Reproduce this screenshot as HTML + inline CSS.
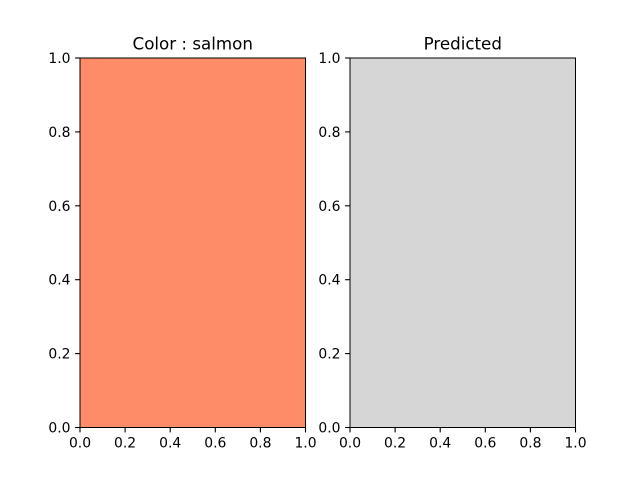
<!DOCTYPE html>
<html><head><meta charset="utf-8"><style>body{margin:0;background:#fff}svg{display:block}text{font-family:"DejaVu Sans","Liberation Sans",sans-serif;font-size:13.9px;fill:#000}</style></head>
<body>
<svg id="fig" width="640" height="480"></svg>
<script>
const ticks = [0, 0.2, 0.4, 0.6, 0.8, 1.0];
const tickLabels = ["0.0","0.2","0.4","0.6","0.8","1.0"];
const panelTitles = ["Color : salmon", "Predicted"];
const panelColors = ["#FF8C69", "#D6D6D6"];
const panelNames = ["actual-color-panel", "predicted-color-panel"];
const svgEl = document.getElementById('fig');
const NS = 'http://www.w3.org/2000/svg';
const lefts = [80, 350], axW = 225.5, axTop = 58, axBottom = 427.5;
function mk(t, a, p) { const e = document.createElementNS(NS, t); for (const k in a) e.setAttribute(k, a[k]); (p || svgEl).appendChild(e); return e; }
panelTitles.forEach((title, i) => {
  const L = lefts[i];
  const sx = v => L + v * axW, sy = v => axBottom - v * (axBottom - axTop);
  const g = mk('g', {});
  
  
  const r = mk('rect', {x: L, y: axTop, width: axW, height: axBottom - axTop, fill: panelColors[i], stroke: '#000', 'stroke-width': 1}, g);
  
  
  const t = mk('text', {x: L + axW / 2, y: axTop - 8.5, 'text-anchor': 'middle', style: 'font-size:16.7px'}, g);
  t.textContent = title;
  
  
  ticks.forEach((v, j) => {
    mk('line', {x1: sx(v), x2: sx(v), y1: axBottom, y2: axBottom + 4.9, stroke: '#000', 'stroke-width': 1.1}, g);
    const xl = mk('text', {x: sx(v), y: axBottom + 20, 'text-anchor': 'middle'}, g);
    xl.textContent = tickLabels[j];
    
    
    mk('line', {x1: L - 4.9, x2: L, y1: sy(v), y2: sy(v), stroke: '#000', 'stroke-width': 1.1}, g);
    const yl = mk('text', {x: L - 9.5, y: sy(v) + 5, 'text-anchor': 'end'}, g);
    yl.textContent = tickLabels[j];
    
    
  });
});
</script>
</body></html>
